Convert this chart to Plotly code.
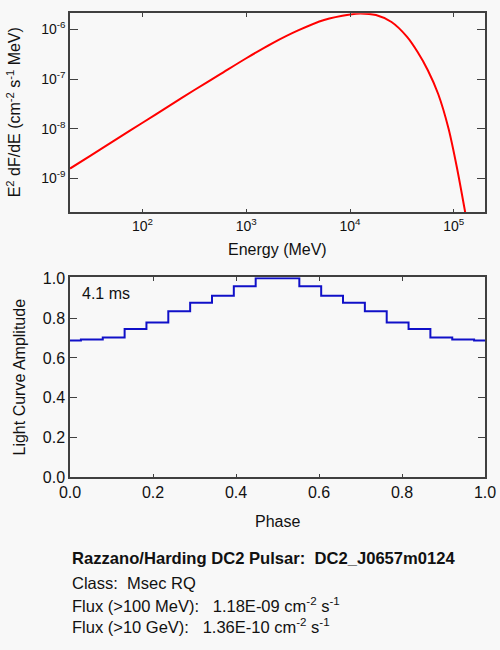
import plotly.graph_objects as go

# ---- data ----
energy_mev = [20, 31.6, 56.2, 100, 177.8, 316.2, 562.3, 1000, 1778, 3162, 5623,
              10000, 12590, 17780, 25120, 35480, 44670, 56230, 70790, 89130,
              107200, 128800]
e2_dfde = [1.58e-9, 2.88e-9, 6.17e-9, 1.32e-8, 2.82e-8, 6.03e-8, 1.26e-7,
           2.63e-7, 5.25e-7, 9.55e-7, 1.55e-6, 2.0e-6, 2.10e-6, 1.95e-6,
           1.41e-6, 7.08e-7, 3.55e-7, 1.51e-7, 5.01e-8, 1.0e-8, 1.66e-9,
           2.09e-10]

phase = [0.0, 0.0526, 0.1053, 0.1579, 0.2105, 0.2632, 0.3158, 0.3684, 0.4211,
         0.4737, 0.5263, 0.5789, 0.6316, 0.6842, 0.7368, 0.7895, 0.8421,
         0.8947, 0.9474, 1.0]
amplitude = [0.687, 0.692, 0.703, 0.745, 0.778, 0.835, 0.877, 0.912, 0.960,
             1.0, 1.0, 0.960, 0.912, 0.877, 0.835, 0.778, 0.745, 0.703, 0.692,
             0.687]

x_major = [100, 1000, 10000, 100000]
x_major_text = ["10<sup>2</sup>", "10<sup>3</sup>", "10<sup>4</sup>", "10<sup>5</sup>"]
y_major = [1e-9, 1e-8, 1e-7, 1e-6]
y_major_text = ["10<sup>-9</sup>", "10<sup>-8</sup>", "10<sup>-7</sup>", "10<sup>-6</sup>"]
phase_ticks = [0.0, 0.2, 0.4, 0.6, 0.8, 1.0]
amp_ticks = [0.0, 0.2, 0.4, 0.6, 0.8, 1.0]

pulsar_name = "DC2_J0657m0124"
pulsar_class = "Msec RQ"
flux_100mev = "1.18E-09"
flux_10gev = "1.36E-10"
period_label = "4.1 ms"

# ---- styling ----
W, H = 500, 650
BG = "#f8f8f8"
AX = "#404040"
TXT = "#111111"
FONT = "Liberation Sans, Arial, Helvetica, sans-serif"

def px(v, total):
    return v / total

x_minor = [m * 10 ** d for d in range(1, 6) for m in range(2, 10)]
y_minor = [m * 10.0 ** d for d in range(-10, -5) for m in range(2, 10)]
phase_minor = [k * 0.05 for k in range(21)]
amp_minor = [k * 0.05 for k in range(21)]

fig = go.Figure()
fig.add_trace(go.Scatter(x=energy_mev, y=e2_dfde, mode="lines",
                         line=dict(color="#ff0000", width=2, shape="spline", smoothing=0.8),
                         xaxis="x", yaxis="y", showlegend=False, hoverinfo="skip"))
fig.add_trace(go.Scatter(x=phase, y=amplitude, mode="lines",
                         line=dict(color="#1010c8", width=2, shape="hvh"),
                         xaxis="x2", yaxis="y2", showlegend=False, hoverinfo="skip"))

xdom = [px(70, W), px(485, W)]
y1dom = [1 - px(212.3, H), 1 - px(13.3, H)]
y2dom = [1 - px(477.3, H), 1 - px(277.3, H)]

common = dict(showgrid=False, zeroline=False, showline=True, linecolor=AX,
              linewidth=1.5, mirror="allticks", ticks="inside", tickcolor=AX,
              tickwidth=1.3, automargin=False, tickmode="array")

minor_common = dict(showgrid=False, zeroline=False, showline=False, mirror="allticks",
                    ticks="inside", tickcolor=AX, tickwidth=1.2, showticklabels=False,
                    automargin=False, tickmode="array")

X_RANGE = [1.30103, 5.30103]
Y_RANGE = [-9.683, -5.675]
P_RANGE = [0, 1]
A_RANGE = [0, 1.005]

fig.update_layout(
    template="none",
    width=W, height=H, margin=dict(l=0, r=0, t=0, b=0, pad=0), autosize=False,
    paper_bgcolor=BG, plot_bgcolor=BG,
    font=dict(family=FONT, color=TXT, size=13),
    xaxis=dict(domain=xdom, anchor="y", type="log", range=X_RANGE,
               tickvals=x_major, ticktext=x_major_text, ticklen=4,
               tickfont=dict(size=14, color=TXT), **common),
    yaxis=dict(domain=y1dom, anchor="x", type="log", range=Y_RANGE,
               tickvals=y_major, ticktext=y_major_text, ticklen=8,
               tickfont=dict(size=14, color=TXT), **common),
    xaxis2=dict(domain=xdom, anchor="y2", range=P_RANGE, tickvals=phase_ticks,
                tickformat=".1f", ticklen=4, tickfont=dict(size=16, color=TXT),
                **common),
    yaxis2=dict(domain=y2dom, anchor="x2", range=A_RANGE, tickvals=amp_ticks,
                tickformat=".1f", ticklen=7, tickfont=dict(size=16, color=TXT),
                **common),
    # minor tick axes
    xaxis3=dict(overlaying="x", anchor="y", side="bottom", type="log", range=X_RANGE,
                tickvals=x_minor, ticklen=2, **minor_common),
    yaxis3=dict(overlaying="y", anchor="x", side="left", type="log", range=Y_RANGE,
                tickvals=y_minor, ticklen=4, **minor_common),
    xaxis4=dict(overlaying="x2", anchor="y2", side="bottom", range=P_RANGE,
                tickvals=phase_minor, ticklen=2, **minor_common),
    yaxis4=dict(overlaying="y2", anchor="x2", side="left", range=A_RANGE,
                tickvals=amp_minor, ticklen=4, **minor_common),
)

ann = [
    dict(text="Energy (MeV)", x=px(277.5, W), y=1 - px(250, H), font=dict(size=16)),
    dict(text="E<sup>2</sup> dF/dE (cm<sup>-2</sup> s<sup>-1</sup> MeV)", x=px(13.5, W),
         y=1 - px(112.8, H), textangle=-90, font=dict(size=16)),
    dict(text="Phase", x=px(277.5, W), y=1 - px(521, H), font=dict(size=16)),
    dict(text="Light Curve Amplitude", x=px(18.5, W), y=1 - px(377, H), textangle=-90,
         font=dict(size=16)),
    dict(text=period_label, x=px(80, W), y=1 - px(293, H), xanchor="left", font=dict(size=16)),
    dict(text="<b>Razzano/Harding DC2 Pulsar:  " + pulsar_name + "</b>", x=px(70, W),
         y=1 - px(558, H), xanchor="left", font=dict(size=16.6)),
    dict(text="Class:  " + pulsar_class, x=px(70, W), y=1 - px(582.5, H), xanchor="left",
         font=dict(size=16.5)),
    dict(text="Flux (>100 MeV):   " + flux_100mev + " cm<sup>-2</sup> s<sup>-1</sup>",
         x=px(70, W), y=1 - px(605, H), xanchor="left", font=dict(size=16.5)),
    dict(text="Flux (>10 GeV):   " + flux_10gev + " cm<sup>-2</sup> s<sup>-1</sup>",
         x=px(70, W), y=1 - px(626, H), xanchor="left", font=dict(size=16.5)),
]
for a in ann:
    a.setdefault("xanchor", "center")
    a.update(xref="paper", yref="paper", yanchor="middle", showarrow=False)
fig.update_layout(annotations=ann)

fig.write_html("out.html", config={"displayModeBar": False, "responsive": False},
               post_script="document.body.style.margin='0';document.body.style.overflow='hidden';")
